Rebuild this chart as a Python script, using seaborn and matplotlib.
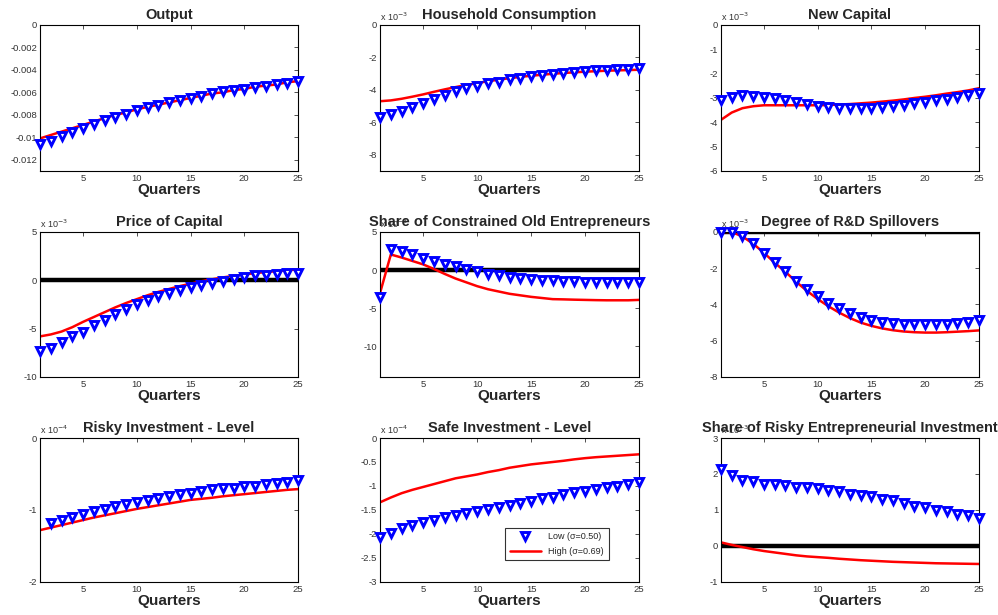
import numpy as np
import matplotlib
matplotlib.use("Agg")
import matplotlib.pyplot as plt
import seaborn as sns

quarters = list(range(1, 26))

titles = [
    "Output",
    "Household Consumption",
    "New Capital",
    "Price of Capital",
    "Share of Constrained Old Entrepreneurs",
    "Degree of R&D Spillovers",
    "Risky Investment - Level",
    "Safe Investment - Level",
    "Share of Risky Entrepreneurial Investment",
]

# values in the units shown on each axis (multiplier in scale_exp)
output_low = [-0.0106, -0.0103, -0.0099, -0.0095, -0.0092, -0.0088, -0.0085, -0.0082, -0.0079, -0.0076,
              -0.0073, -0.0071, -0.0069, -0.0067, -0.0065, -0.0063, -0.0061, -0.0059, -0.0058, -0.0057,
              -0.0055, -0.0054, -0.0053, -0.0052, -0.0050]
output_high = [-0.0101, -0.0098, -0.0095, -0.0092, -0.0089, -0.0086, -0.0083, -0.0080, -0.0078, -0.0075,
               -0.0073, -0.0071, -0.0069, -0.0067, -0.0065, -0.0063, -0.0061, -0.0060, -0.0058, -0.0057,
               -0.0055, -0.0054, -0.0053, -0.0051, -0.0050]

cons_low = [-5.7, -5.5, -5.3, -5.05, -4.8, -4.55, -4.3, -4.1, -3.9, -3.75, -3.6, -3.5, -3.35, -3.25, -3.15,
            -3.07, -3.0, -2.95, -2.9, -2.85, -2.8, -2.77, -2.74, -2.72, -2.68]
cons_high = [-4.7, -4.65, -4.55, -4.42, -4.28, -4.12, -3.97, -3.83, -3.7, -3.58, -3.47, -3.37, -3.28, -3.2,
             -3.13, -3.07, -3.01, -2.96, -2.92, -2.88, -2.85, -2.82, -2.8, -2.78, -2.76]

newcap_low = [-3.1, -2.95, -2.88, -2.9, -2.95, -3.02, -3.1, -3.18, -3.25, -3.32, -3.37, -3.4, -3.42, -3.42,
              -3.4, -3.37, -3.33, -3.28, -3.22, -3.16, -3.1, -3.03, -2.95, -2.88, -2.8]
newcap_high = [-3.9, -3.6, -3.42, -3.34, -3.3, -3.3, -3.3, -3.3, -3.3, -3.3, -3.29, -3.27, -3.25, -3.22,
               -3.19, -3.15, -3.11, -3.06, -3.0, -2.95, -2.89, -2.82, -2.76, -2.69, -2.6]

price_low = [-7.34, -6.97, -6.4, -5.8, -5.3, -4.6, -4.07, -3.5, -3.0, -2.45, -2.0, -1.6, -1.3, -0.97, -0.7,
             -0.5, -0.3, -0.1, 0.1, 0.35, 0.5, 0.55, 0.65, 0.72, 0.8]
price_high = [-5.8, -5.6, -5.3, -4.85, -4.3, -3.8, -3.3, -2.8, -2.35, -1.95, -1.55, -1.2, -0.9, -0.6, -0.35,
              -0.1, 0.1, 0.3, 0.45, 0.6, 0.75, 0.85, 0.95, 1.05, 1.12]

constr_low = [-3.5, 2.75, 2.45, 2.05, 1.6, 1.2, 0.8, 0.5, 0.2, -0.15, -0.5, -0.65, -0.85, -1.05, -1.15,
              -1.25, -1.35, -1.4, -1.45, -1.5, -1.5, -1.55, -1.55, -1.55, -1.55]
constr_high = [-3.0, 2.05, 1.65, 1.2, 0.75, 0.15, -0.5, -1.1, -1.6, -2.1, -2.5, -2.8, -3.1, -3.3, -3.5,
               -3.65, -3.8, -3.83, -3.87, -3.9, -3.93, -3.95, -3.95, -3.95, -3.9]

rd_low = [0.0, 0.0, -0.2, -0.6, -1.15, -1.67, -2.17, -2.7, -3.15, -3.55, -3.9, -4.2, -4.48, -4.68, -4.85,
          -4.96, -5.03, -5.09, -5.1, -5.1, -5.09, -5.05, -5.0, -4.94, -4.87]
rd_high = [0.0, 0.0, -0.25, -0.65, -1.15, -1.7, -2.2, -2.75, -3.25, -3.7, -4.1, -4.45, -4.75, -5.0, -5.18,
           -5.32, -5.42, -5.49, -5.53, -5.55, -5.55, -5.53, -5.5, -5.47, -5.43]

risky_low = [np.nan, -1.18, -1.14, -1.1, -1.06, -1.02, -0.99, -0.95, -0.92, -0.89, -0.86, -0.83, -0.8, -0.78,
             -0.76, -0.73, -0.71, -0.7, -0.69, -0.67, -0.66, -0.64, -0.63, -0.61, -0.59]
risky_high = [-1.28, -1.245, -1.21, -1.175, -1.14, -1.105, -1.075, -1.045, -1.015, -0.985, -0.96, -0.935,
              -0.91, -0.885, -0.86, -0.845, -0.83, -0.81, -0.795, -0.78, -0.765, -0.75, -0.735, -0.72, -0.71]

safe_low = [-2.07, -1.97, -1.88, -1.82, -1.76, -1.70, -1.65, -1.6, -1.56, -1.52, -1.48, -1.44, -1.39, -1.35,
            -1.31, -1.26, -1.22, -1.17, -1.13, -1.1, -1.06, -1.03, -0.99, -0.95, -0.92]
safe_high = [-1.34, -1.24, -1.15, -1.08, -1.02, -0.96, -0.90, -0.84, -0.80, -0.76, -0.71, -0.67, -0.62,
             -0.585, -0.55, -0.525, -0.50, -0.475, -0.445, -0.42, -0.40, -0.385, -0.37, -0.355, -0.34]

share_low = [2.15, 1.97, 1.83, 1.8, 1.71, 1.71, 1.69, 1.65, 1.63, 1.6, 1.56, 1.53, 1.45, 1.41, 1.38, 1.31,
             1.28, 1.19, 1.12, 1.08, 1.0, 0.97, 0.9, 0.86, 0.79]
share_high = [0.1, 0.03, -0.03, -0.09, -0.14, -0.18, -0.22, -0.26, -0.29, -0.31, -0.33, -0.355, -0.375,
              -0.395, -0.41, -0.425, -0.44, -0.45, -0.46, -0.47, -0.48, -0.485, -0.49, -0.495, -0.5]

low_series = [output_low, cons_low, newcap_low, price_low, constr_low, rd_low, risky_low, safe_low, share_low]
high_series = [output_high, cons_high, newcap_high, price_high, constr_high, rd_high, risky_high, safe_high, share_high]

scale_exp = [None, -3, -3, -3, -3, -3, -4, -4, -3]
ylims = [(-0.013, 0), (-9, 0), (-6, 0), (-10, 5), (-14, 5), (-8, 0), (-2, 0), (-3, 0), (-1, 3)]
yticks = [
    [0, -0.002, -0.004, -0.006, -0.008, -0.01, -0.012],
    [0, -2, -4, -6, -8],
    [0, -1, -2, -3, -4, -5, -6],
    [5, 0, -5, -10],
    [5, 0, -5, -10],
    [0, -2, -4, -6, -8],
    [0, -1, -2],
    [0, -0.5, -1, -1.5, -2, -2.5, -3],
    [3, 2, 1, 0, -1],
]
zero_line = [False, False, False, True, True, True, False, False, True]

sns.set_theme(style="white")
plt.rcParams["font.family"] = ["Liberation Sans", "DejaVu Sans"]
plt.rcParams["xtick.direction"] = "in"
plt.rcParams["ytick.direction"] = "in"

fig = plt.figure(figsize=(9.98, 6.15), dpi=100)

lefts = [0.0401, 0.3808, 0.7224]
bottoms = [0.7220, 0.3870, 0.0537]
widths = [0.2585, 0.2595, 0.2585]
heights = [0.2374, 0.2358, 0.2341]

for i in range(9):
    r, c = divmod(i, 3)
    ax = fig.add_axes([lefts[c], bottoms[r], widths[c], heights[r]])

    if zero_line[i]:
        ax.axhline(0, color="black", lw=3.2, zorder=1)

    sns.lineplot(x=quarters, y=high_series[i], ax=ax, color="red", lw=1.8, zorder=2,
                 label="High (σ=0.69)")
    sns.lineplot(x=quarters, y=low_series[i], ax=ax, color="blue", linestyle="none",
                 marker="v", markersize=5.8, markerfacecolor="white", markeredgecolor="blue",
                 markeredgewidth=2.1, zorder=3, label="Low (σ=0.50)", clip_on=False)

    ax.set_xlim(1, 25)
    ax.set_ylim(*ylims[i])
    ax.set_xticks([5, 10, 15, 20, 25])
    ax.set_yticks(yticks[i])
    ax.set_yticklabels(["%g" % t for t in yticks[i]])
    ax.tick_params(axis="both", labelsize=6.8, colors="#333333", length=3, width=0.6,
                   top=True, right=True, pad=2)
    for s in ax.spines.values():
        s.set_color("black")
        s.set_linewidth(0.8)

    ax.set_xlabel("Quarters", fontsize=11, fontweight="bold", labelpad=0)
    ax.set_title(titles[i], fontsize=10.5, fontweight="bold", pad=4, zorder=5)
    if scale_exp[i] is not None:
        ax.text(0.0, 1.015, r"x 10$^{%d}$" % scale_exp[i], transform=ax.transAxes,
                fontsize=6.5, color="#333333", ha="left", va="bottom")

    leg = ax.get_legend()
    if i == 7:
        h, l = ax.get_legend_handles_labels()
        ax.legend(h[::-1], l[::-1], loc="lower right", bbox_to_anchor=(0.9, 0.12),
                  fontsize=6.5, frameon=True, fancybox=False, edgecolor="black",
                  handlelength=3.5, borderpad=0.5, labelspacing=0.6).get_frame().set_linewidth(0.8)
    elif leg is not None:
        leg.remove()

fig.savefig("out.png", dpi=100)
